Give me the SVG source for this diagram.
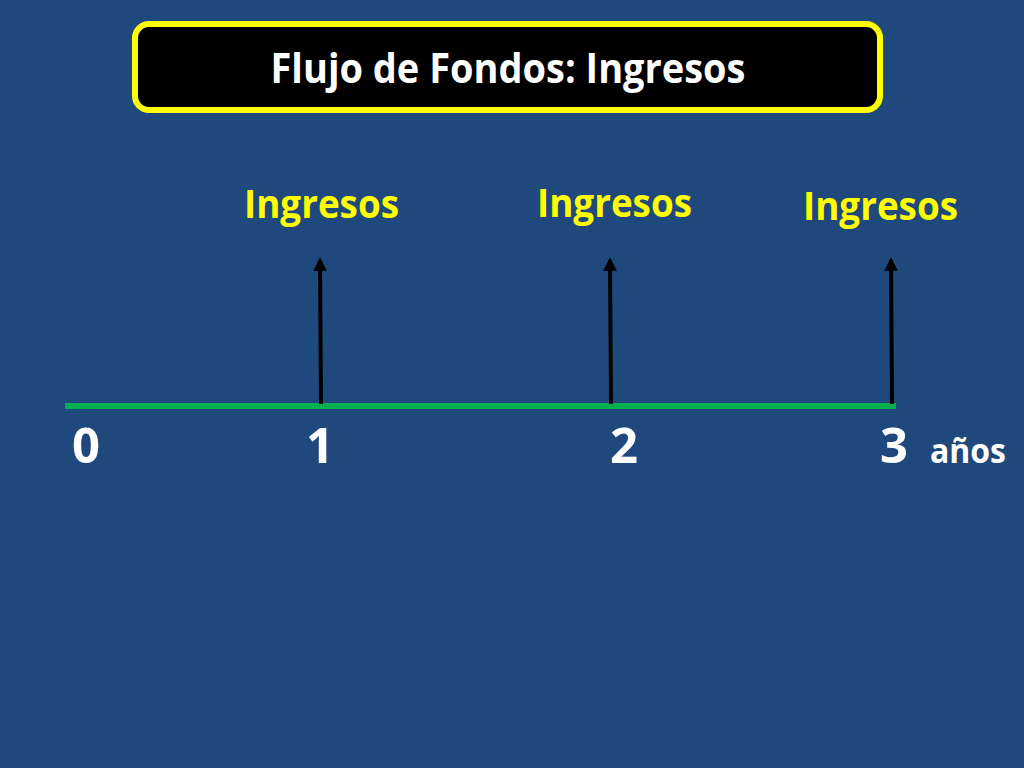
<svg xmlns="http://www.w3.org/2000/svg" width="1024" height="768" viewBox="0 0 1024 768">
<defs>
<style>
.t{font-family:"Open Sans","Liberation Sans",sans-serif;font-weight:bold}
.lab{fill:#FFFF00;font-size:39px}
.num{fill:#FFFFFF;font-size:49px}
.arr{stroke:#000000;stroke-width:4;fill:none;marker-end:url(#ah)}
</style>
<marker id="ah" viewBox="0 0 10 10" refX="8" refY="5" markerWidth="3.4" markerHeight="3.4" orient="auto" markerUnits="strokeWidth">
<path d="M0,0 L10,5 L0,10 Z" fill="#000000"/>
</marker>
</defs>
<rect x="0" y="0" width="1024" height="768" fill="#1F497D"/>
<g id="title">
<rect x="135" y="24" width="745" height="86" rx="14" ry="14" fill="#000000" stroke="#FFFF00" stroke-width="6"/>
<text class="t" x="508" y="83" text-anchor="middle" fill="#FFFFFF" font-size="42" textLength="475" lengthAdjust="spacingAndGlyphs">Flujo de Fondos: Ingresos</text>
</g>
<g id="connectors">
<line x1="65" y1="406" x2="896" y2="406" stroke="#00B050" stroke-width="6"/>
<line class="arr" x1="321" y1="404" x2="320" y2="260"/>
<line class="arr" x1="611" y1="404" x2="610" y2="260"/>
<line class="arr" x1="892" y1="404" x2="891" y2="260"/>
</g>
<g id="label1"><text class="t lab" x="244" y="218" textLength="155" lengthAdjust="spacingAndGlyphs">Ingresos</text></g>
<g id="label2"><text class="t lab" x="537" y="217" textLength="155" lengthAdjust="spacingAndGlyphs">Ingresos</text></g>
<g id="label3"><text class="t lab" x="803" y="220" textLength="155" lengthAdjust="spacingAndGlyphs">Ingresos</text></g>
<g id="tick0"><text class="t num" x="72" y="463">0</text></g>
<g id="tick1"><text class="t num" x="306" y="463">1</text></g>
<g id="tick2"><text class="t num" x="610" y="463">2</text></g>
<g id="tick3"><text class="t num" x="880" y="463">3</text></g>
<g id="unit"><text class="t" x="930" y="463" fill="#FFFFFF" font-size="34" textLength="76" lengthAdjust="spacingAndGlyphs">años</text></g>
</svg>
